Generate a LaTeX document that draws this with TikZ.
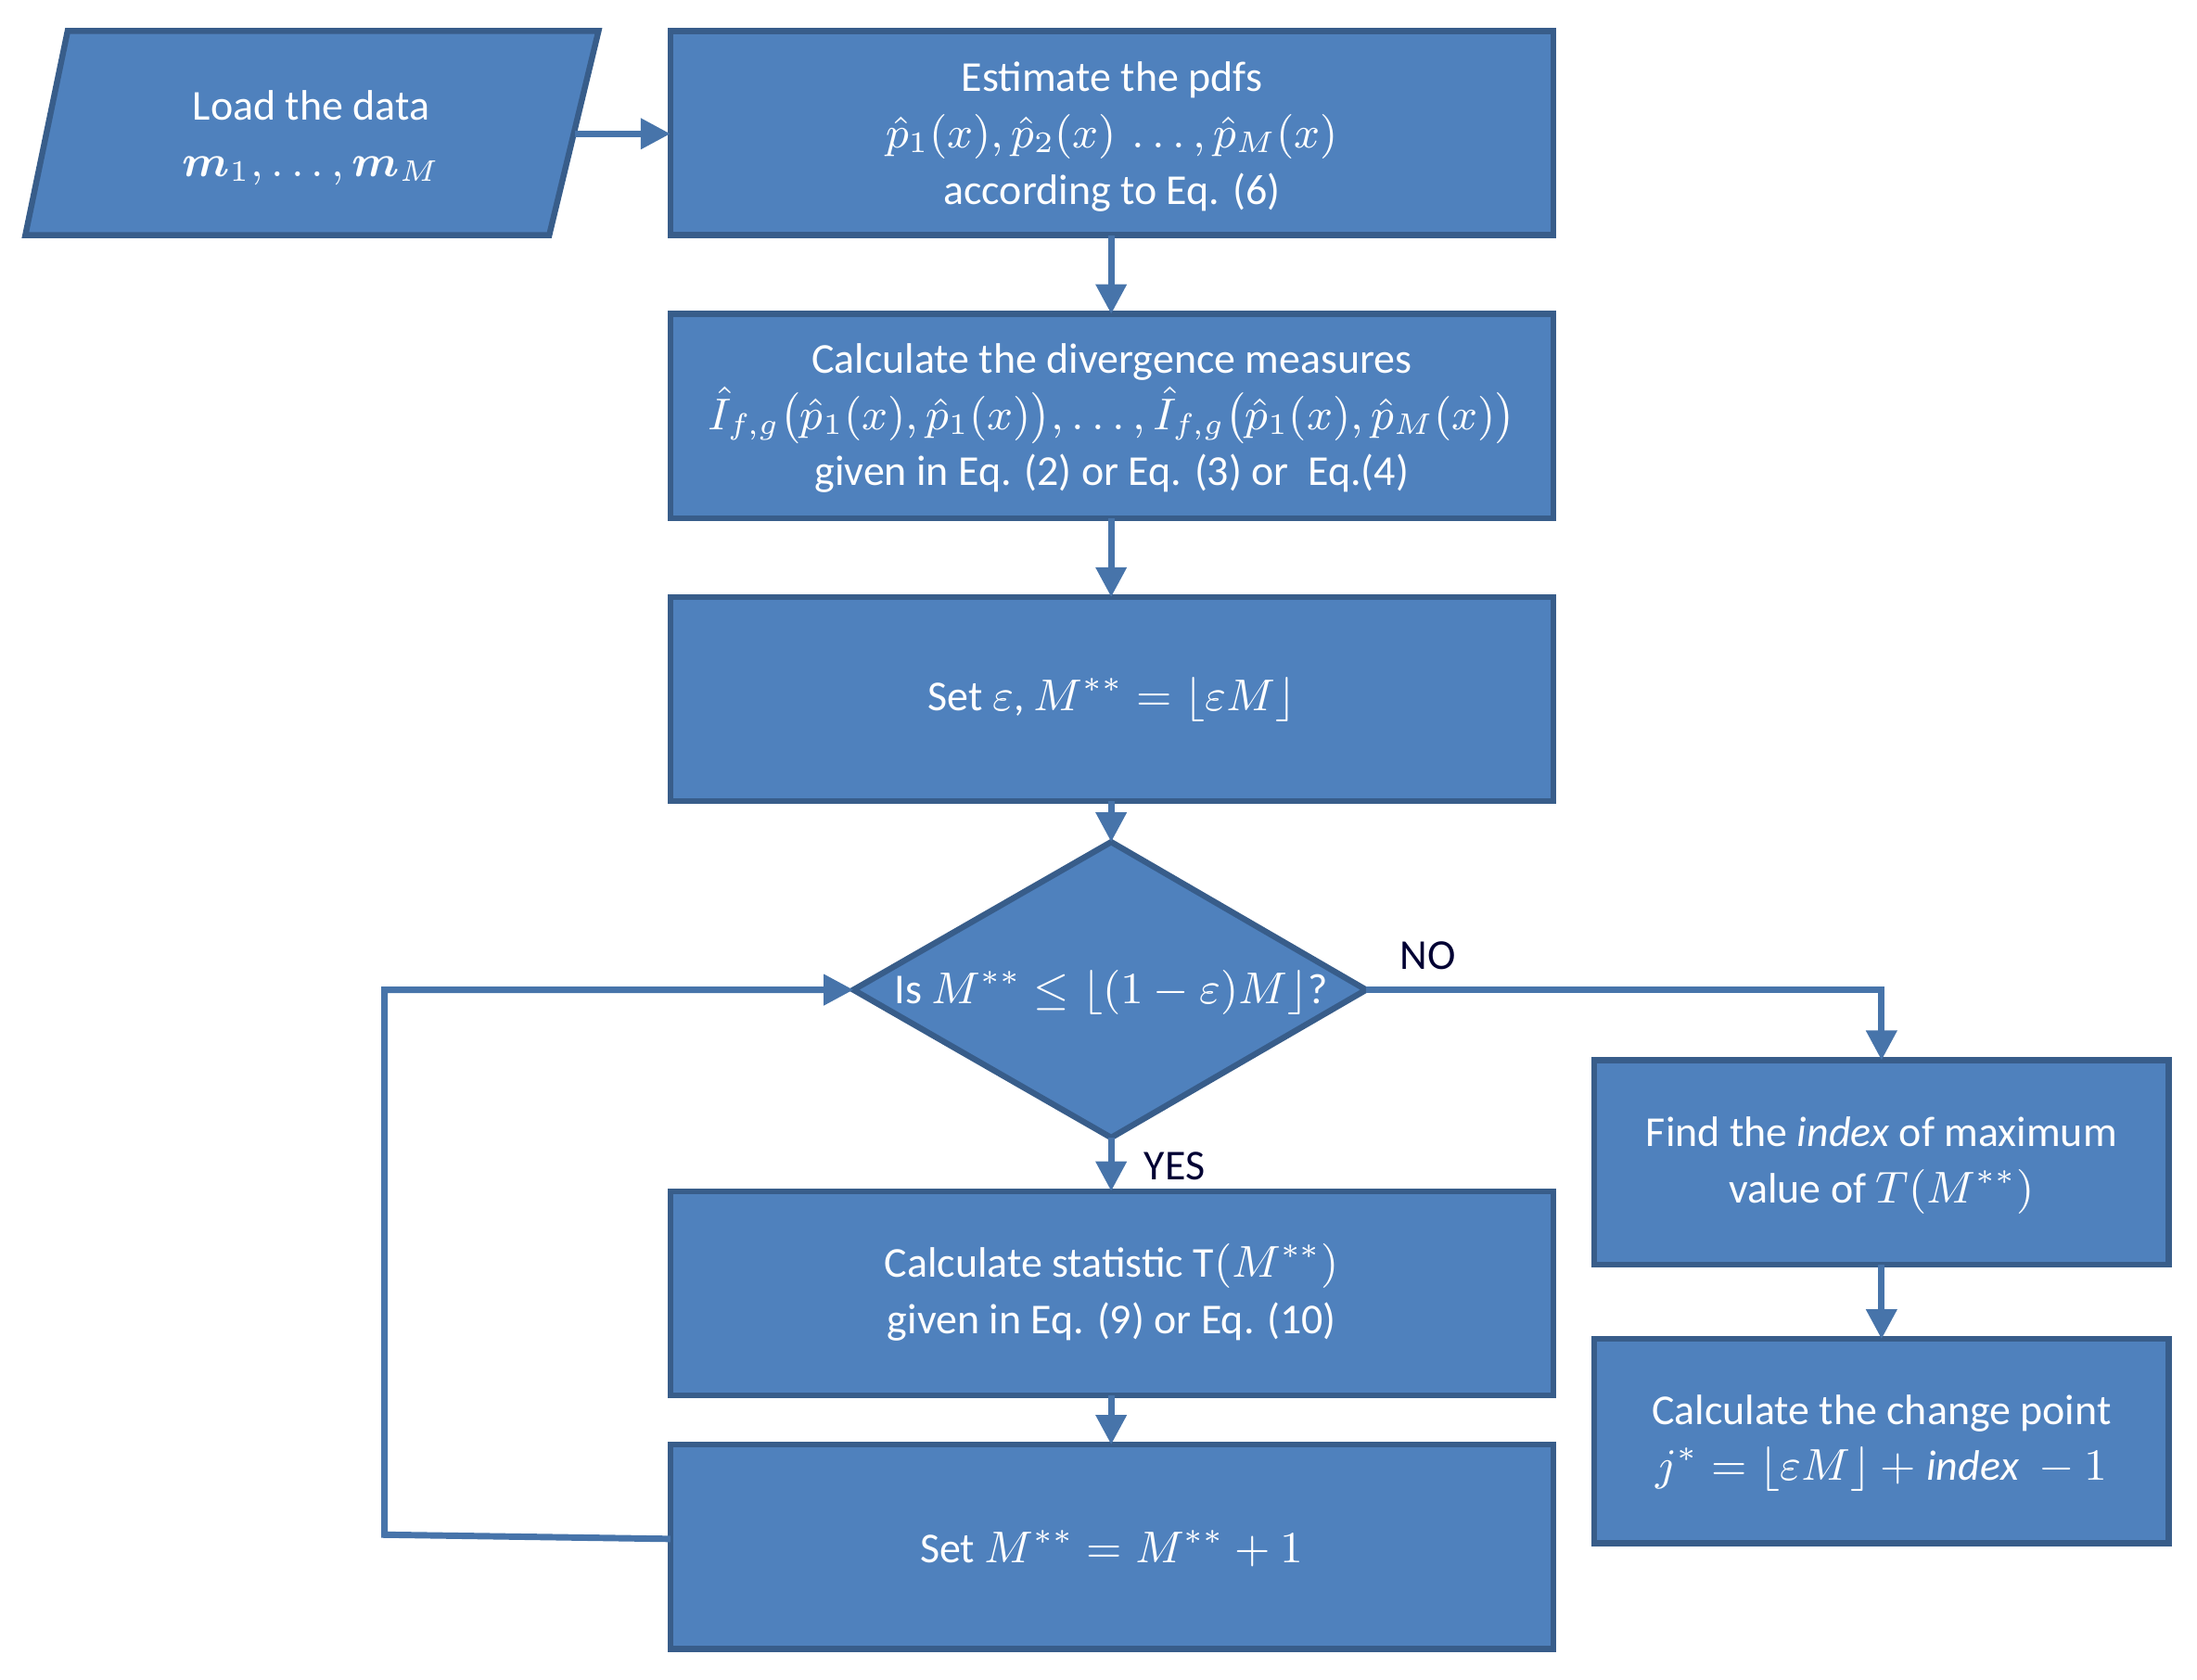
\documentclass[tikz,border=0pt]{standalone}
\usepackage{amsmath,amssymb}
\usepackage{fontspec}
\setmainfont{Carlito}
\usetikzlibrary{arrows.meta}
\definecolor{fillb}{HTML}{4F81BD}
\definecolor{edgeb}{HTML}{385D8A}
\begin{document}
\begin{tikzpicture}[x=0.01cm,y=-0.01cm,
  shp/.style={draw=edgeb,fill=fillb,line width=1.2pt},
  txt/.style={text=white,align=center,font=\fontsize{8.6}{11.4}\selectfont},
  arr/.style={draw=fillb!90!black,line width=1.3pt,-{Triangle[length=6pt,width=6pt]}},
  lbl/.style={text=black!80!blue,font=\fontsize{8.6}{11}\selectfont}]
\useasboundingbox (0,0) rectangle (1560,1193);
\draw[shp] (48,22) -- (425,22) -- (390,167) -- (18,167) -- cycle;
\node[txt] (load) at (221,98) {Load the data\\ $\boldsymbol{m}_1,\dots,\boldsymbol{m}_M$};
\coordinate (loadr) at (408,95);
\draw[shp] (476,22) rectangle (1103,167);
\node[txt] (b1) at (789.5,97) {Estimate the pdfs\\ $\hat p_1(x),\hat p_2(x)\,\dots,\hat p_M(x)$\\ according to Eq. (6)};
\draw[shp] (476,223) rectangle (1103,368);
\coordinate (b1b) at (789,167);
\coordinate (b2t) at (789,223); \coordinate (b2b) at (789,368);
\node[txt] (b2) at (789.5,297) {Calculate the divergence measures\\ $\hat I_{f,g}\big(\hat p_1(x),\hat p_1(x)\big),\dots,\hat I_{f,g}\big(\hat p_1(x),\hat p_M(x)\big)$\\ given in Eq. (2) or Eq. (3) or\ \ Eq.(4)};
\draw[shp] (476,424) rectangle (1103,569);
\coordinate (b3t) at (789,424); \coordinate (b3b) at (789,569);
\node[txt] (b3) at (789.5,497) {Set $\varepsilon$, $M^{**}=\lfloor\varepsilon M\rfloor$};
\draw[shp] (789,598) -- (970,703) -- (789,808) -- (606,703) -- cycle;
\coordinate (dt) at (789,598); \coordinate (db) at (789,808); \coordinate (dl) at (606,703); \coordinate (dr) at (970,703);
\node[txt] (d) at (789,705) {Is $M^{**}\le\lfloor(1-\varepsilon)M\rfloor$?};
\draw[shp] (476,846) rectangle (1103,991);
\coordinate (b4t) at (789,846); \coordinate (b4b) at (789,991);
\node[txt] (b4) at (789.5,918) {Calculate statistic $\mathrm{T}(M^{**})$\\ given in Eq. (9) or Eq. (10)};
\draw[shp] (476,1026) rectangle (1103,1171);
\coordinate (b5t) at (789,1026); \coordinate (b5l) at (476,1093);
\node[txt] (b5) at (789.5,1100) {Set $M^{**}=M^{**}+1$};
\draw[shp] (1132,753) rectangle (1540,898);
\coordinate (r1t) at (1336,753); \coordinate (r1b) at (1336,898);
\node[txt] (r1) at (1336,828) {Find the $\mathit{index}$ of maximum\\ value of $T(M^{**})$};
\draw[shp] (1132,951) rectangle (1540,1096);
\coordinate (r2t) at (1336,951);
\node[txt] (r2) at (1336,1025) {Calculate the change point\\ $j^*=\lfloor\varepsilon M\rfloor+\mathit{index}\ -1$};
\draw[arr] (loadr) -- (476,95);
\draw[arr] (b1b) -- (b2t);
\draw[arr] (b2b) -- (b3t);
\draw[arr] (b3b) -- (dt);
\draw[arr] (db) -- (b4t);
\draw[arr] (b4b) -- (b5t);
\draw[arr] (b5l) -- (273,1090) -- (273,703) -- (dl);
\draw[arr] (dr) -- (1336,703) -- (r1t);
\draw[arr] (r1b) -- (r2t);
\node[lbl] (no) at (1014,679) {NO};
\node[lbl] (yes) at (834,828) {YES};
\end{tikzpicture}
\end{document}
